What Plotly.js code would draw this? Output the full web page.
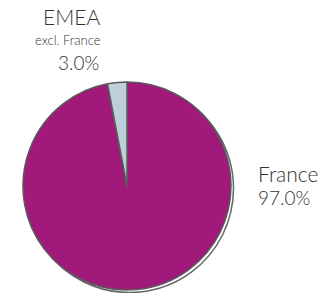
<!DOCTYPE html>
<html><head><meta charset="utf-8">
<script src="https://cdn.plot.ly/plotly-3.0.1.min.js"></script>
<style>html,body{margin:0;padding:0;background:#fff}#c{width:333px;height:293px}</style>
</head><body><div id="c"></div>
<script>
const categories = ["France", "EMEA excl. France"];
const values = [97.0, 3.0];
const colors = ["#A0197B", "#BDD0DA"];
const labelLines = [["France", "97.0%"], ["EMEA", "excl. France", "3.0%"]];

const W = 333, H = 293;
const cx = 127, cy = 186, r = 104;
function dom(dx, dy) {
  return {
    x: [(cx - r + dx) / W, (cx + r + dx) / W],
    y: [(H - cy - r - dy) / H, (H - cy + r - dy) / H]
  };
}
const shadow = {
  type: "pie", labels: categories, values: values, sort: false,
  direction: "clockwise", rotation: 0,
  marker: {colors: ["#ffffff", "#ffffff"], line: {color: "#666", width: 1.5}},
  textinfo: "none", hoverinfo: "none", showlegend: false,
  domain: dom(2.5, 2.5)
};
const main = {
  type: "pie", labels: categories, values: values, sort: false,
  direction: "clockwise", rotation: 0,
  marker: {colors: colors, line: {color: "#5a5a5a", width: 1.5}},
  textinfo: "none", showlegend: false,
  domain: dom(0, 0)
};
const font = "Lato, 'DejaVu Sans', sans-serif";
const tc = "#333333";
function f(size) { return {family: font, size: size, color: tc, weight: 300}; }
const layout = {
  width: W, height: H, margin: {l: 0, r: 0, t: 0, b: 0},
  paper_bgcolor: "#fff", showlegend: false,
  annotations: [
    {text: labelLines[1][0], x: 102 / W, y: 1 - 17 / H, xref: "paper", yref: "paper", xanchor: "right", yanchor: "middle", showarrow: false, font: f(21)},
    {text: labelLines[1][1], x: 103 / W, y: 1 - 40 / H, xref: "paper", yref: "paper", xanchor: "right", yanchor: "middle", showarrow: false, font: f(13)},
    {text: labelLines[1][2], x: 101 / W, y: 1 - 63 / H, xref: "paper", yref: "paper", xanchor: "right", yanchor: "middle", showarrow: false, font: f(19)},
    {text: labelLines[0][0], x: 256 / W, y: 1 - 173 / H, xref: "paper", yref: "paper", xanchor: "left", yanchor: "middle", showarrow: false, font: f(21)},
    {text: labelLines[0][1], x: 256 / W, y: 1 - 198 / H, xref: "paper", yref: "paper", xanchor: "left", yanchor: "middle", showarrow: false, font: f(19)}
  ]
};
Plotly.newPlot("c", [shadow, main], layout, {displayModeBar: false, staticPlot: true});
</script></body></html>
